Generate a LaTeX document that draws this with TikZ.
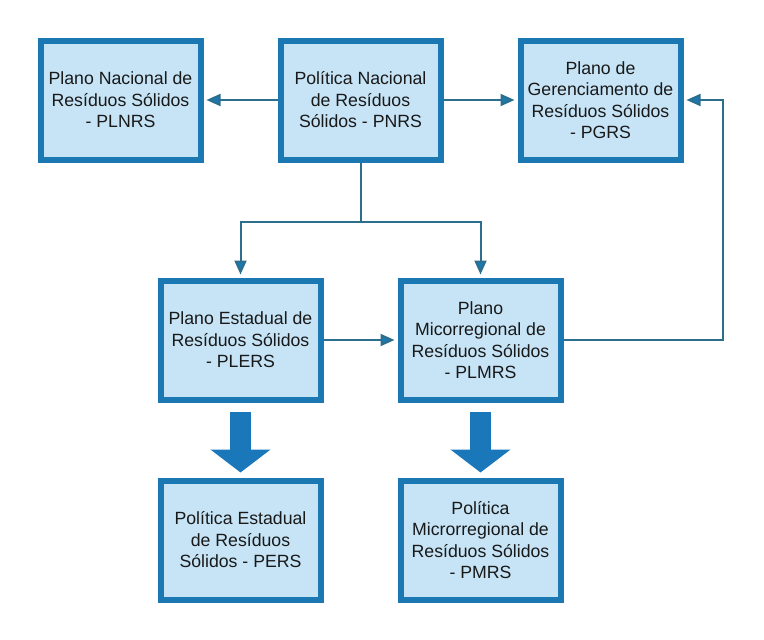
\documentclass[tikz,border=0pt]{standalone}
\usepackage{fontspec}
\setmainfont{Liberation Sans}
\usetikzlibrary{arrows.meta}
\definecolor{boxline}{RGB}{28,120,178}
\definecolor{boxfill}{RGB}{198,228,246}
\definecolor{linkline}{RGB}{44,111,141}
\definecolor{bigblue}{RGB}{26,120,186}
\begin{document}
\begin{tikzpicture}[x=1pt,y=-1pt,
    box/.style={draw=boxline, fill=boxfill, line width=6pt, minimum width=160pt, minimum height=119pt,
        align=center, text=black!90, inner sep=2pt, font=\fontsize{17.7}{21.5}\selectfont},
    link/.style={draw=linkline, line width=2pt, -{Triangle[length=14pt,width=12pt,fill=boxline]}, shorten >=3pt},
    bigarrow/.style={draw=bigblue, line width=21pt, -{Triangle[length=23pt,width=59pt]}, shorten <=9pt, shorten >=5pt}]
    \useasboundingbox (0,0) rectangle (764,640);

    \node[box] (plnrs) at (120.5,100) {Plano Nacional de\\Resíduos Sólidos\\- PLNRS};
    \node[box] (pnrs) at (360.5,100) {Política Nacional\\de Resíduos\\Sólidos - PNRS};
    \node[box] (pgrs) at (600.5,100) {Plano de\\Gerenciamento de\\Resíduos Sólidos\\- PGRS};
    \node[box] (plers) at (240.5,340) {Plano Estadual de\\Resíduos Sólidos\\- PLERS};
    \node[box] (plmrs) at (480.5,340) {Plano\\Micorregional de\\Resíduos Sólidos\\- PLMRS};
    \node[box] (pers) at (240.5,540) {Política Estadual\\de Resíduos\\Sólidos - PERS};
    \node[box] (pmrs) at (480.5,540) {Política\\Microrregional de\\Resíduos Sólidos\\- PMRS};

    \coordinate (split) at (360.5,222);
    \coordinate (back) at (723,340);

    \draw[link] (pnrs.west) -- (plnrs.east);
    \draw[link] (pnrs.east) -- (pgrs.west);
    \draw[draw=linkline, line width=2pt] (pnrs.south) -- (split);
    \draw[link] (split) -| (plers.north);
    \draw[link] (split) -| (plmrs.north);
    \draw[link] (plers.east) -- (plmrs.west);
    \draw[link] (plmrs.east) -- (back) |- (pgrs.east);

    \draw[bigarrow] (plers.south) -- (pers.north);
    \draw[bigarrow] (plmrs.south) -- (pmrs.north);

\end{tikzpicture}
\end{document}
